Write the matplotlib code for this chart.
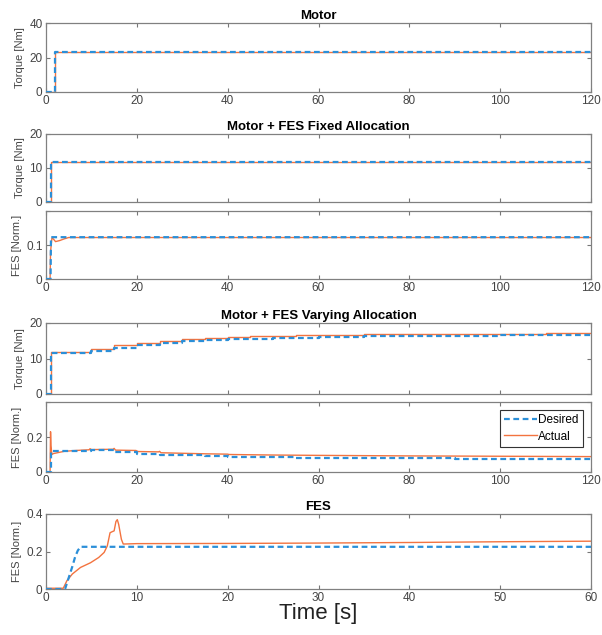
import matplotlib
matplotlib.use("Agg")
import matplotlib.pyplot as plt

plt.rcParams['font.family'] = ['Liberation Sans', 'DejaVu Sans']

# ---- data ----
# Motor only
motor_t = [0, 2.0, 2.0, 120]
motor_des = [0, 0, 23.3, 23.3]
motor_act = [0, 0, 23.2, 23.2]

# Motor + FES fixed allocation
fixed_t = [0, 1.0, 1.0, 120]
fixed_torque_des = [0, 0, 11.7, 11.7]
fixed_torque_act = [0, 0, 11.8, 11.8]

fixed_fes_des_t = [0, 1.0, 1.1, 120]
fixed_fes_des = [0, 0, 0.123, 0.123]
fixed_fes_act_t = [0, 0.9, 1.0, 1.3, 1.6, 2.1, 3.0, 4.0, 5.0, 120]
fixed_fes_act = [0, 0, 0.08, 0.12, 0.118, 0.11, 0.113, 0.118, 0.122, 0.122]

# Motor + FES varying allocation (piecewise constant)
var_step_t = [0, 1, 10, 15, 20, 25, 30, 35, 40, 45, 50, 55, 60, 70, 80, 90, 100, 110, 120]
var_torque_des = [0, 11.5, 12.2, 13.0, 13.7, 14.3, 14.8, 15.1, 15.4, 15.6, 15.8, 15.9, 16.0,
                  16.2, 16.3, 16.4, 16.5, 16.5, 16.5]
var_torque_act = [0, 11.9, 12.8, 13.7, 14.4, 15.0, 15.4, 15.7, 16.0, 16.2, 16.4, 16.5, 16.6,
                  16.8, 16.9, 17.0, 17.0, 17.1, 17.1]
var_fes_des = [0, 0.122, 0.125, 0.115, 0.105, 0.100, 0.095, 0.090, 0.088, 0.086, 0.084, 0.082,
               0.080, 0.079, 0.078, 0.077, 0.076, 0.075, 0.075]
var_fes_act_t = [0, 0.9, 1.0, 1.1, 1.3, 1.6, 2.5, 4, 6, 8, 9.5, 9.7, 10, 14.8, 15, 15.3,
                 19.8, 20, 20.3, 24.8, 25, 25.3, 30, 35, 40, 40.3, 50, 60, 80, 100, 120]
var_fes_act = [0, 0, 0.23, 0.15, 0.10, 0.105, 0.11, 0.118, 0.122, 0.125, 0.127, 0.133, 0.128,
               0.130, 0.135, 0.125, 0.123, 0.120, 0.117, 0.115, 0.118, 0.110, 0.107, 0.104,
               0.102, 0.100, 0.097, 0.095, 0.092, 0.090, 0.088]

# FES only
fes_des_t = [0, 2.1, 2.5, 2.9, 3.2, 3.5, 3.8, 60]
fes_des = [0, 0, 0.06, 0.12, 0.17, 0.205, 0.225, 0.225]
fes_act_t = [0, 1.9, 2.3, 2.9, 3.8, 4.9, 5.8, 6.4, 6.75, 7.05, 7.3, 7.5, 7.7, 7.85, 8.0,
             8.3, 8.5, 8.7, 10, 20, 30, 40, 50, 60]
fes_act = [0.004, 0.004, 0.044, 0.08, 0.115, 0.14, 0.168, 0.195, 0.23, 0.30, 0.306, 0.31,
           0.36, 0.37, 0.345, 0.265, 0.24, 0.24, 0.242, 0.243, 0.245, 0.248, 0.252, 0.255]

BLUE = '#2b8fd8'
ORANGE = '#f3733f'
W, H = 602, 635
LEFT, RIGHT = 46, 591


def make_ax(fig, top, bottom):
    ax = fig.add_axes([LEFT / W, 1 - bottom / H, (RIGHT - LEFT) / W, (bottom - top) / H])
    ax.tick_params(direction='in', top=True, right=True, length=3, labelsize=8.5,
                   colors='#777777', labelcolor='#444444', pad=2.5)
    for s in ax.spines.values():
        s.set_color('#808080')
        s.set_linewidth(0.9)
    return ax


def draw(ax, t_des, y_des, t_act, y_act, step=False):
    ds = 'steps-post' if step else 'default'
    la, = ax.plot(t_act, y_act, color=ORANGE, lw=1.0, drawstyle=ds, zorder=2)
    ld, = ax.plot(t_des, y_des, color=BLUE, lw=1.6, ls=(0, (2.6, 1.6)), drawstyle=ds, zorder=3)
    return ld, la


def title(ax, text):
    ax.set_title(text, fontsize=9.5, fontweight='bold', pad=3)


fig = plt.figure(figsize=(W / 100, H / 100), dpi=100)

ylab_kw = dict(fontsize=8, color='#444444', labelpad=3)

ax1 = make_ax(fig, 23, 92)
draw(ax1, motor_t, motor_des, motor_t, motor_act)
ax1.set_xlim(0, 120)
ax1.set_ylim(0, 40)
ax1.set_yticks([0, 20, 40])
ax1.set_xticks(range(0, 121, 20))
ax1.set_ylabel('Torque [Nm]', **ylab_kw)
title(ax1, 'Motor')

ax2 = make_ax(fig, 134, 202)
draw(ax2, fixed_t, fixed_torque_des, fixed_t, fixed_torque_act)
ax2.set_xlim(0, 120)
ax2.set_ylim(0, 20)
ax2.set_yticks([0, 10, 20])
ax2.set_xticks(range(0, 121, 20))
ax2.set_xticklabels([])
ax2.set_ylabel('Torque [Nm]', **ylab_kw)
title(ax2, 'Motor + FES Fixed Allocation')

ax3 = make_ax(fig, 211, 279)
draw(ax3, fixed_fes_des_t, fixed_fes_des, fixed_fes_act_t, fixed_fes_act)
ax3.set_xlim(0, 120)
ax3.set_ylim(0, 0.2)
ax3.set_yticks([0, 0.1, 0.2])
ax3.set_yticklabels(['0', '0.1', ''])
ax3.set_xticks(range(0, 121, 20))
ax3.set_ylabel('FES [Norm.]', **ylab_kw)

ax4 = make_ax(fig, 323, 394)
draw(ax4, var_step_t, var_torque_des, var_step_t, var_torque_act, step=True)
ax4.set_xlim(0, 120)
ax4.set_ylim(0, 20)
ax4.set_yticks([0, 10, 20])
ax4.set_xticks(range(0, 121, 20))
ax4.set_xticklabels([])
ax4.set_ylabel('Torque [Nm]', **ylab_kw)
title(ax4, 'Motor + FES Varying Allocation')

ax5 = make_ax(fig, 402, 472)
ax5.plot(var_fes_act_t, var_fes_act, color=ORANGE, lw=1.0, zorder=2)
ax5.plot(var_step_t, var_fes_des, color=BLUE, lw=1.6, ls=(0, (2.6, 1.6)),
         drawstyle='steps-post', zorder=3)
ax5.set_xlim(0, 120)
ax5.set_ylim(0, 0.4)
ax5.set_yticks([0, 0.2, 0.4])
ax5.set_yticklabels(['0', '0.2', ''])
ax5.set_xticks(range(0, 121, 20))
ax5.set_ylabel('FES [Norm.]', **ylab_kw)
hd = plt.Line2D([], [], color=BLUE, lw=1.6, ls=(0, (2.6, 1.6)))
ha = plt.Line2D([], [], color=ORANGE, lw=1.0)
leg = ax5.legend([hd, ha], ['Desired', 'Actual'], loc='upper right', fontsize=8.5,
                 frameon=True, fancybox=False, framealpha=1, edgecolor='#333333',
                 handlelength=2.8, handletextpad=0.1, borderpad=0.35, labelspacing=0.35,
                 borderaxespad=0.7)
leg.get_frame().set_linewidth(0.8)

ax6 = make_ax(fig, 514, 589)
draw(ax6, fes_des_t, fes_des, fes_act_t, fes_act)
ax6.set_xlim(0, 60)
ax6.set_ylim(0, 0.4)
ax6.set_yticks([0, 0.2, 0.4])
ax6.set_yticklabels(['0', '0.2', '0.4'])
ax6.set_xticks(range(0, 61, 10))
ax6.set_ylabel('FES [Norm.]', **ylab_kw)
ax6.set_xlabel('Time [s]', fontsize=16, color='#222222', labelpad=-1)
title(ax6, 'FES')

fig.savefig('out.png', dpi=100)
